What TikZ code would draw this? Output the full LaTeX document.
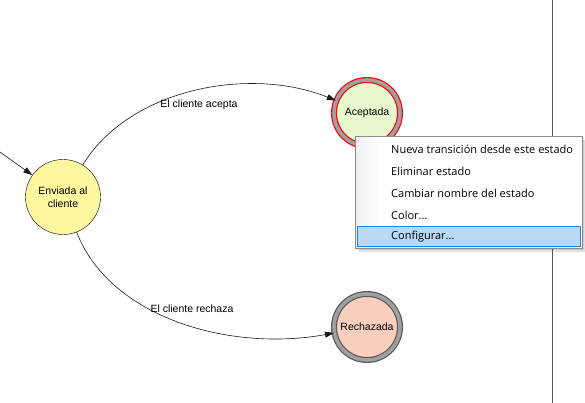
\documentclass[tikz,border=0pt]{standalone}
\usepackage{fontspec}
\setmainfont{Liberation Sans}
\newfontfamily\menufont{Open Sans}
\usetikzlibrary{arrows.meta, positioning}
\definecolor{statoyellow}{RGB}{255,246,160}
\definecolor{statogreen}{RGB}{230,249,205}
\definecolor{statosalmon}{RGB}{250,206,190}
\definecolor{ringgray}{RGB}{160,160,160}
\definecolor{menuhigh}{RGB}{184,216,244}
\definecolor{menuedge}{RGB}{40,130,220}
\definecolor{gutter}{RGB}{240,240,240}

\begin{document}
\begin{tikzpicture}[x=1pt, y=-1pt,
			stato/.style={circle, draw=black, fill=statoyellow, minimum size=75pt, inner sep=0pt, align=center, font=\fontsize{10.5}{12.5}\selectfont},
			finale/.style={stato, line width=1.2pt, double distance=3.6pt, double=ringgray, minimum size=66pt},
			trans/.style={-{Triangle[length=9pt, width=6pt]}, line width=0.6pt, black!90},
			lbl/.style={font=\fontsize{10.5}{12.5}\selectfont, inner sep=1pt},
			voce/.style={anchor=west, font=\menufont\fontsize{11}{13}\selectfont, inner sep=0pt}
		]
		\useasboundingbox (0,0) rectangle (585,403);
		% divider on the right
		\coordinate (divtop) at (552,0);
		\coordinate (divbot) at (552,403);
		\draw[black!65] (divtop) -- (divbot);
		% states
		\node[stato] (env) at (63,197) {Enviada al\\cliente};
		\node[finale, draw=red, fill=statogreen] (acep) at (367,113) {Aceptada};
		\node[finale, draw=black!65, fill=statosalmon] (rech) at (367,327) {Rechazada};
		% transitions
		\coordinate (ini) at (0,152);
		\draw[trans] (ini) -- (env);
		\draw[trans] (env) .. controls (130,88) and (250,66) .. (acep);
		\draw[trans] (env) .. controls (110,318) and (230,352) .. (rech);
		\node[lbl] (lacep) at (199,105) {El cliente acepta};
		\node[lbl] (lrech) at (192,309) {El cliente rechaza};
		% context menu
		\coordinate (mnw) at (355,136);
		\coordinate (mse) at (582,248);
		\fill[black, opacity=0.12] (359,140) rectangle (586,252);
		\fill[black, opacity=0.10] (357,138) rectangle (584,250);
		\draw[black!45, fill=white] (mnw) rectangle (mse);
		\shade[left color=gutter, right color=white] (356.5,137.5) rectangle (380,246.5);
		\draw[menuedge, fill=menuhigh] (357,226.5) rectangle (580,246.5);
		\node[voce] (v1) at (391,149) {Nueva transición desde este estado};
		\node[voce] (v2) at (391,171) {Eliminar estado};
		\node[voce] (v3) at (391,193) {Cambiar nombre del estado};
		\node[voce] (v4) at (391,215) {Color...};
		\node[voce] (v5) at (391,237) {Configurar...};
	\end{tikzpicture}
\end{document}
